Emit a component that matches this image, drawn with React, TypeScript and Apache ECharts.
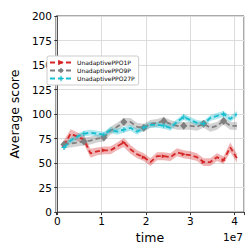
import React, { useEffect, useRef } from "react";
import * as echarts from "echarts";

const STEPS = [
  1500000, 3000000, 4500000, 6000000, 7500000, 9000000, 10500000, 12000000, 13500000,
  15000000, 16500000, 18000000, 19500000, 21000000, 22500000, 24000000, 25500000, 27000000,
  28500000, 30000000, 31500000, 33000000, 34500000, 36000000, 37500000, 39000000, 40500000,
];

const RED_MEAN = [68, 80, 77, 74, 60, 62, 63, 63, 67, 71, 64, 59, 56, 51, 57, 57, 56, 61, 59, 58, 56, 51, 51, 56, 53, 66, 55];
const RED_STD = [5, 4.5, 4.5, 4.5, 4.5, 4, 4, 4, 4, 4.5, 4.5, 4, 4, 4, 4, 4, 4, 4, 4, 4, 4, 4, 4, 4, 4, 5, 4.5];

const GRAY_MEAN = [69, 70, 71, 72, 73, 75, 76, 83, 87, 92, 92, 87, 86, 90, 91, 93, 90, 88, 88, 88, 87, 90, 86, 88, 93, 88, 88];
const GRAY_STD = [4, 4, 4, 4, 4, 4, 4, 4, 4, 4, 4, 4, 4, 4, 4, 4, 4, 4, 4, 4, 4, 4, 4, 4, 4, 4, 4];

const CYAN_MEAN = [66, 73, 77, 80, 81, 80, 79, 84, 82, 84, 86, 82, 86, 89, 89, 88, 86, 92, 97, 94, 91, 90, 96, 98, 100, 95, 100];
const CYAN_STD = [3, 3, 3, 3, 3, 3, 3, 3, 3, 3, 3, 3, 3, 3, 3, 3, 3, 3, 3, 3, 3, 3, 3, 3, 3, 3, 3];

const NAMES = ["UnadaptivePPO1P", "UnadaptivePPO9P", "UnadaptivePPO27P"];
const COLORS = ["#d62728", "#7f7f7f", "#17becf"];

const FONT = "DejaVu Sans";
const PLUS = "path://M4 0 H6 V4 H10 V6 H6 V10 H4 V6 H0 V4 H4 Z";

function band(mean: number[], std: number[], color: string, z: number) {
  return {
    type: "custom",
    silent: true,
    z,
    clip: true,
    data: STEPS.map((s, i) => [s, mean[i]]),
    encode: { x: 0, y: 1 },
    renderItem: (params: any, api: any) => {
      if (params.dataIndex !== 0) return null;
      const up = STEPS.map((s, i) => api.coord([s, mean[i] + std[i]]));
      const lo = STEPS.map((s, i) => api.coord([s, mean[i] - std[i]])).reverse();
      return {
        type: "polygon",
        shape: { points: up.concat(lo) },
        style: { fill: color, opacity: 0.35 },
      };
    },
  };
}

function line(name: string, mean: number[], color: string, symbol: string, size: any, rotate: number, z: number) {
  return {
    type: "line",
    name,
    z,
    symbol,
    symbolSize: size,
    symbolRotate: rotate,
    showAllSymbol: true,
    itemStyle: { color },
    lineStyle: { color, width: 1.8, type: [5, 3] },
    data: STEPS.map((s, i) => ({
      value: [s, mean[i]],
      symbol: i % 3 === 0 ? symbol : "none",
    })),
  };
}

export default function App() {
  const ref = useRef<HTMLDivElement>(null);
  useEffect(() => {
    const chart = echarts.init(ref.current!, null, { renderer: "svg" });
    const option: any = {
      animation: false,
      backgroundColor: "#ffffff",
      textStyle: { fontFamily: FONT },
      grid: {
        left: 38,
        top: 16,
        width: 206,
        height: 204,
        show: true,
        borderColor: "#555",
        borderWidth: 1,
        backgroundColor: "transparent",
      },
      legend: {
        data: NAMES,
        orient: "vertical",
        left: 47,
        top: 56,
        padding: [3, 4, 3, 2],
        itemWidth: 22,
        itemHeight: 7,
        itemGap: 1,
        borderColor: "#cccccc",
        borderWidth: 1,
        borderRadius: 2,
        backgroundColor: "#ffffff",
        textStyle: { fontSize: 6, color: "#000", fontFamily: FONT, lineHeight: 7 },
      },
      xAxis: {
        type: "value",
        min: -300000,
        max: 42100000,
        name: "time",
        nameLocation: "middle",
        nameGap: 12,
        nameTextStyle: { fontSize: 12.5, color: "#000", fontFamily: FONT },
        axisLine: { show: true, lineStyle: { color: "#555" } },
        axisTick: { show: true, length: 3, lineStyle: { color: "#333" } },
        splitLine: { show: true, lineStyle: { color: "#dcdcdc", width: 1 } },
        axisLabel: {
          fontSize: 10.5,
          color: "#000",
          margin: 3,
          formatter: (v: number) => {
            const r = Math.round(v / 1e7);
            return Math.abs(v / 1e7 - r) < 1e-6 ? String(r) : "";
          },
        },
      },
      yAxis: {
        type: "value",
        min: 0,
        max: 200,
        interval: 25,
        name: "Average score",
        nameLocation: "middle",
        nameGap: 22,
        nameTextStyle: { fontSize: 12.5, color: "#000", fontFamily: FONT },
        axisLine: { show: true, lineStyle: { color: "#555" } },
        axisTick: { show: true, length: 3, lineStyle: { color: "#333" } },
        splitLine: { show: true, lineStyle: { color: "#dcdcdc", width: 1 } },
        axisLabel: { fontSize: 10.5, color: "#000", margin: 4 },
      },
      graphic: [
        {
          type: "text",
          left: 223,
          top: 231,
          style: { text: "1e7", fontSize: 10.5, fill: "#000", fontFamily: FONT },
        },
      ],
      series: [
        band(RED_MEAN, RED_STD, COLORS[0], 1),
        line(NAMES[0], RED_MEAN, COLORS[0], "triangle", 4, -90, 5),
        band(GRAY_MEAN, GRAY_STD, COLORS[1], 2),
        line(NAMES[1], GRAY_MEAN, COLORS[1], "diamond", [7, 8], 0, 6),
        band(CYAN_MEAN, CYAN_STD, COLORS[2], 3),
        line(NAMES[2], CYAN_MEAN, COLORS[2], PLUS, 5, 0, 7),
      ],
    };
    chart.setOption(option);
    return () => chart.dispose();
  }, []);
  return <div ref={ref} style={{ position: "fixed", left: 0, top: 0, width: 249, height: 249 }} />;
}
